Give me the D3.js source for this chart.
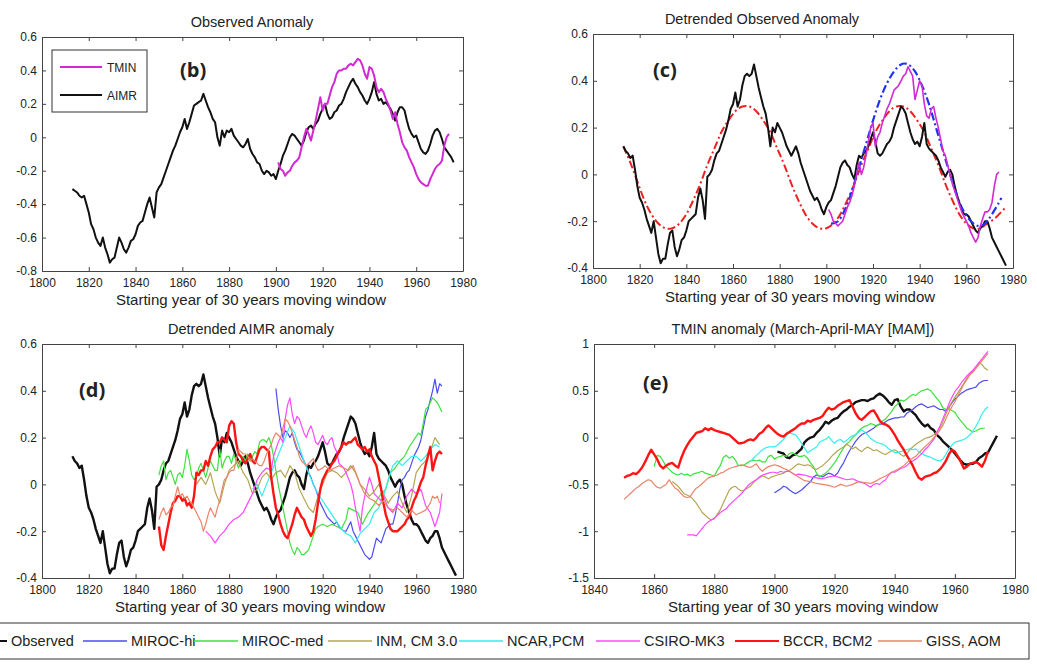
<!DOCTYPE html>
<html>
<head>
<meta charset="utf-8">
<script src="https://cdn.jsdelivr.net/npm/d3@7"></script>
<style>
  body { margin: 0; background: #fff; }
  text { font-family: "Liberation Sans", Arial, sans-serif; }
</style>
</head>
<body>
<script>
// tick values
var yearTicks = [1800, 1820, 1840, 1860, 1880, 1900, 1920, 1940, 1960, 1980];
var yearTicksE = [1840, 1860, 1880, 1900, 1920, 1940, 1960, 1980];
var ticksB = [-0.8, -0.6, -0.4, -0.2, 0, 0.2, 0.4, 0.6];
var ticksCD = [-0.4, -0.2, 0, 0.2, 0.4, 0.6];
var ticksE = [-1.5, -1, -0.5, 0, 0.5, 1];

// (b) observed anomaly
var aimrObs = [[1813,-0.31],[1814,-0.32],[1815,-0.33],[1816,-0.35],[1817,-0.36],[1818,-0.35],[1819,-0.4],[1820,-0.45],[1821,-0.52],[1822,-0.55],[1823,-0.6],[1824,-0.63],[1825,-0.65],[1826,-0.6],[1827,-0.66],[1828,-0.7],[1829,-0.75],[1830,-0.73],[1831,-0.72],[1832,-0.66],[1833,-0.6],[1834,-0.63],[1835,-0.67],[1836,-0.69],[1837,-0.66],[1838,-0.62],[1839,-0.61],[1840,-0.58],[1841,-0.53],[1842,-0.51],[1843,-0.5],[1844,-0.45],[1845,-0.4],[1846,-0.36],[1847,-0.42],[1848,-0.48],[1849,-0.33],[1850,-0.3],[1851,-0.28],[1852,-0.24],[1853,-0.2],[1854,-0.16],[1855,-0.12],[1856,-0.08],[1857,-0.05],[1858,-0.01],[1859,0.03],[1860,0.06],[1861,0.11],[1862,0.05],[1863,0.09],[1864,0.14],[1865,0.19],[1866,0.2],[1867,0.21],[1868,0.22],[1869,0.26],[1870,0.22],[1871,0.18],[1872,0.15],[1873,0.11],[1874,0.09],[1875,0.0],[1876,-0.05],[1877,0.04],[1878,0.0],[1879,0.04],[1880,0.03],[1881,0.05],[1882,0.01],[1883,-0.01],[1884,-0.03],[1885,-0.05],[1886,-0.06],[1887,-0.04],[1888,-0.01],[1889,-0.07],[1890,-0.1],[1891,-0.12],[1892,-0.15],[1893,-0.16],[1894,-0.2],[1895,-0.22],[1896,-0.2],[1897,-0.21],[1898,-0.23],[1899,-0.22],[1900,-0.25],[1901,-0.2],[1902,-0.16],[1903,-0.11],[1904,-0.08],[1905,-0.04],[1906,0.0],[1907,0.02],[1908,0.01],[1909,-0.01],[1910,-0.03],[1911,-0.05],[1912,-0.02],[1913,0.03],[1914,0.06],[1915,0.07],[1916,0.05],[1917,0.08],[1918,0.1],[1919,0.14],[1920,0.17],[1921,0.2],[1922,0.14],[1923,0.11],[1924,0.12],[1925,0.15],[1926,0.16],[1927,0.19],[1928,0.2],[1929,0.23],[1930,0.27],[1931,0.3],[1932,0.33],[1933,0.35],[1934,0.32],[1935,0.3],[1936,0.27],[1937,0.25],[1938,0.22],[1939,0.2],[1940,0.23],[1941,0.27],[1942,0.33],[1943,0.26],[1944,0.22],[1945,0.23],[1946,0.2],[1947,0.21],[1948,0.19],[1949,0.17],[1950,0.14],[1951,0.1],[1952,0.15],[1953,0.18],[1954,0.18],[1955,0.16],[1956,0.1],[1957,0.05],[1958,0.02],[1959,0.0],[1960,0.01],[1961,-0.03],[1962,-0.07],[1963,-0.09],[1964,-0.1],[1965,-0.08],[1966,-0.04],[1967,0.01],[1968,0.04],[1969,0.05],[1970,0.03],[1971,-0.01],[1972,-0.06],[1973,-0.08],[1974,-0.1],[1975,-0.12],[1976,-0.15]];
var tminObs = [[1901,-0.15],[1902,-0.19],[1903,-0.2],[1904,-0.23],[1905,-0.21],[1906,-0.2],[1907,-0.17],[1908,-0.15],[1909,-0.14],[1910,-0.12],[1911,-0.06],[1912,0.0],[1913,0.05],[1914,0.02],[1915,-0.02],[1916,0.04],[1917,0.1],[1918,0.17],[1919,0.24],[1920,0.16],[1921,0.2],[1922,0.2],[1923,0.25],[1924,0.3],[1925,0.33],[1926,0.38],[1927,0.4],[1928,0.4],[1929,0.41],[1930,0.41],[1931,0.43],[1932,0.44],[1933,0.43],[1934,0.45],[1935,0.47],[1936,0.46],[1937,0.43],[1938,0.38],[1939,0.35],[1940,0.42],[1941,0.41],[1942,0.37],[1943,0.3],[1944,0.27],[1945,0.29],[1946,0.27],[1947,0.23],[1948,0.2],[1949,0.16],[1950,0.11],[1951,0.15],[1952,0.08],[1953,0.03],[1954,-0.03],[1955,-0.06],[1956,-0.08],[1957,-0.12],[1958,-0.15],[1959,-0.18],[1960,-0.22],[1961,-0.25],[1962,-0.27],[1963,-0.28],[1964,-0.29],[1965,-0.29],[1966,-0.25],[1967,-0.22],[1968,-0.19],[1969,-0.17],[1970,-0.16],[1971,-0.14],[1972,-0.05],[1973,0.0],[1974,0.02]];

// (c) and (d) detrended observed
var aimrDetr = [[1813,0.12],[1814,0.1],[1815,0.09],[1816,0.07],[1817,0.08],[1818,0.02],[1819,-0.05],[1820,-0.1],[1821,-0.12],[1822,-0.15],[1823,-0.19],[1824,-0.22],[1825,-0.25],[1826,-0.2],[1827,-0.27],[1828,-0.34],[1829,-0.38],[1830,-0.36],[1831,-0.36],[1832,-0.3],[1833,-0.25],[1834,-0.24],[1835,-0.31],[1836,-0.35],[1837,-0.32],[1838,-0.28],[1839,-0.27],[1840,-0.24],[1841,-0.2],[1842,-0.19],[1843,-0.18],[1844,-0.17],[1845,-0.1],[1846,-0.06],[1847,-0.11],[1848,-0.19],[1849,-0.01],[1850,0.0],[1851,0.02],[1852,0.06],[1853,0.09],[1854,0.1],[1855,0.13],[1856,0.16],[1857,0.19],[1858,0.23],[1859,0.28],[1860,0.3],[1861,0.35],[1862,0.29],[1863,0.32],[1864,0.38],[1865,0.42],[1866,0.43],[1867,0.42],[1868,0.43],[1869,0.47],[1870,0.42],[1871,0.37],[1872,0.33],[1873,0.29],[1874,0.26],[1875,0.2],[1876,0.12],[1877,0.2],[1878,0.18],[1879,0.22],[1880,0.2],[1881,0.18],[1882,0.15],[1883,0.12],[1884,0.1],[1885,0.08],[1886,0.1],[1887,0.12],[1888,0.09],[1889,0.05],[1890,0.02],[1891,-0.01],[1892,-0.04],[1893,-0.07],[1894,-0.09],[1895,-0.11],[1896,-0.1],[1897,-0.12],[1898,-0.15],[1899,-0.17],[1900,-0.14],[1901,-0.12],[1902,-0.11],[1903,-0.08],[1904,-0.05],[1905,-0.01],[1906,0.03],[1907,0.05],[1908,0.06],[1909,0.04],[1910,0.03],[1911,0.0],[1912,-0.02],[1913,0.04],[1914,0.08],[1915,0.07],[1916,0.09],[1917,0.1],[1918,0.12],[1919,0.15],[1920,0.18],[1921,0.14],[1922,0.09],[1923,0.08],[1924,0.09],[1925,0.11],[1926,0.13],[1927,0.14],[1928,0.16],[1929,0.2],[1930,0.23],[1931,0.26],[1932,0.29],[1933,0.28],[1934,0.26],[1935,0.22],[1936,0.18],[1937,0.15],[1938,0.13],[1939,0.14],[1940,0.12],[1941,0.16],[1942,0.22],[1943,0.13],[1944,0.11],[1945,0.1],[1946,0.09],[1947,0.08],[1948,0.06],[1949,0.03],[1950,0.01],[1951,-0.01],[1952,0.01],[1953,0.02],[1954,0.0],[1955,-0.05],[1956,-0.09],[1957,-0.12],[1958,-0.15],[1959,-0.17],[1960,-0.17],[1961,-0.18],[1962,-0.2],[1963,-0.22],[1964,-0.24],[1965,-0.25],[1966,-0.23],[1967,-0.22],[1968,-0.2],[1969,-0.2],[1970,-0.23],[1971,-0.27],[1972,-0.29],[1973,-0.31],[1974,-0.33],[1975,-0.35],[1976,-0.37],[1977,-0.39]];
var tminDetr = [[1901,-0.15],[1902,-0.17],[1903,-0.2],[1904,-0.21],[1905,-0.22],[1906,-0.21],[1907,-0.2],[1908,-0.17],[1909,-0.14],[1910,-0.12],[1911,-0.09],[1912,-0.05],[1913,0.0],[1914,0.05],[1915,0.0],[1916,0.03],[1917,0.08],[1918,0.14],[1919,0.2],[1920,0.22],[1921,0.12],[1922,0.16],[1923,0.18],[1924,0.22],[1925,0.25],[1926,0.28],[1927,0.3],[1928,0.33],[1929,0.36],[1930,0.37],[1931,0.38],[1932,0.4],[1933,0.42],[1934,0.43],[1935,0.46],[1936,0.44],[1937,0.42],[1938,0.32],[1939,0.36],[1940,0.4],[1941,0.38],[1942,0.3],[1943,0.25],[1944,0.24],[1945,0.28],[1946,0.29],[1947,0.24],[1948,0.2],[1949,0.15],[1950,0.1],[1951,0.08],[1952,0.04],[1953,0.0],[1954,-0.04],[1955,-0.07],[1956,-0.1],[1957,-0.13],[1958,-0.16],[1959,-0.18],[1960,-0.2],[1961,-0.22],[1962,-0.25],[1963,-0.27],[1964,-0.29],[1965,-0.27],[1966,-0.22],[1967,-0.19],[1968,-0.16],[1969,-0.16],[1970,-0.15],[1971,-0.12],[1972,-0.05],[1973,0.0],[1974,0.01]];
var aimrFit = [[1813,0.12],[1816,0.05],[1819,-0.03],[1822,-0.11],[1825,-0.17],[1828,-0.21],[1831,-0.23],[1834,-0.23],[1837,-0.21],[1840,-0.17],[1843,-0.11],[1846,-0.04],[1849,0.04],[1852,0.11],[1855,0.18],[1858,0.23],[1861,0.27],[1864,0.29],[1867,0.29],[1870,0.27],[1873,0.23],[1876,0.18],[1879,0.11],[1882,0.04],[1885,-0.04],[1888,-0.11],[1891,-0.17],[1894,-0.21],[1897,-0.23],[1900,-0.23],[1903,-0.21],[1906,-0.17],[1909,-0.11],[1912,-0.04],[1915,0.04],[1918,0.11],[1921,0.18],[1924,0.23],[1927,0.27],[1930,0.29],[1933,0.29],[1936,0.27],[1939,0.23],[1942,0.18],[1945,0.11],[1948,0.04],[1951,-0.04],[1954,-0.11],[1957,-0.17],[1960,-0.21],[1963,-0.23],[1966,-0.23],[1969,-0.21],[1972,-0.19],[1975,-0.16],[1977,-0.14]];
var tminFit = [[1902,-0.21],[1905,-0.2],[1908,-0.15],[1911,-0.07],[1914,0.03],[1917,0.13],[1920,0.23],[1923,0.32],[1926,0.39],[1929,0.44],[1932,0.47],[1935,0.47],[1938,0.44],[1941,0.38],[1944,0.3],[1947,0.2],[1950,0.1],[1953,0.0],[1956,-0.09],[1959,-0.16],[1962,-0.2],[1965,-0.22],[1968,-0.21],[1971,-0.17],[1974,-0.12],[1975,-0.1]];

// (d) detrended AIMR, models
var dMirocHi = [[1900,0.41],[1901,0.32],[1902,0.25],[1903,0.2],[1904,0.23],[1905,0.22],[1906,0.2],[1907,0.22],[1908,0.18],[1909,0.15],[1910,0.14],[1911,0.12],[1912,0.1],[1913,0.08],[1914,0.05],[1915,0.03],[1916,0.0],[1917,-0.02],[1918,-0.05],[1919,-0.08],[1920,-0.1],[1921,-0.12],[1922,-0.14],[1923,-0.15],[1924,-0.16],[1925,-0.17],[1926,-0.16],[1927,-0.18],[1928,-0.19],[1929,-0.2],[1930,-0.2],[1931,-0.18],[1932,-0.16],[1933,-0.2],[1934,-0.22],[1935,-0.24],[1936,-0.26],[1937,-0.28],[1938,-0.3],[1939,-0.31],[1940,-0.32],[1941,-0.31],[1942,-0.27],[1943,-0.23],[1944,-0.24],[1945,-0.25],[1946,-0.22],[1947,-0.19],[1948,-0.18],[1949,-0.17],[1950,-0.17],[1951,-0.13],[1952,-0.08],[1953,-0.02],[1954,0.02],[1955,0.03],[1956,0.05],[1957,0.06],[1958,0.09],[1959,0.12],[1960,0.14],[1961,0.16],[1962,0.19],[1963,0.24],[1964,0.29],[1965,0.32],[1966,0.36],[1967,0.4],[1968,0.45],[1969,0.39],[1970,0.43],[1971,0.42]];
var dMirocMed = [[1850,0.04],[1851,0.08],[1852,0.1],[1853,0.02],[1854,0.05],[1855,0.06],[1856,0.03],[1857,0.0],[1858,0.04],[1859,0.05],[1860,0.03],[1861,0.08],[1862,0.15],[1863,0.1],[1864,0.04],[1865,0.02],[1866,0.03],[1867,0.07],[1868,0.09],[1869,0.06],[1870,0.03],[1871,0.07],[1872,0.1],[1873,0.08],[1874,0.06],[1875,0.06],[1876,0.15],[1877,0.07],[1878,0.1],[1879,0.12],[1880,0.12],[1881,0.09],[1882,0.13],[1883,0.1],[1884,0.07],[1885,0.1],[1886,0.12],[1887,0.1],[1888,0.13],[1889,0.1],[1890,0.12],[1891,0.14],[1892,0.13],[1893,0.18],[1894,0.19],[1895,0.19],[1896,0.18],[1897,0.2],[1898,0.17],[1899,0.12],[1900,0.06],[1901,0.0],[1902,-0.05],[1903,-0.1],[1904,-0.15],[1905,-0.2],[1906,-0.25],[1907,-0.28],[1908,-0.3],[1909,-0.27],[1910,-0.28],[1911,-0.3],[1912,-0.3],[1913,-0.29],[1914,-0.28],[1915,-0.25],[1916,-0.22],[1917,-0.19],[1918,-0.18],[1920,-0.17],[1922,-0.18],[1924,-0.17],[1926,-0.18],[1928,-0.19],[1930,-0.15],[1931,-0.1],[1933,-0.11],[1935,-0.12],[1937,-0.17],[1939,-0.13],[1941,-0.1],[1943,-0.07],[1945,-0.04],[1947,-0.02],[1949,0.05],[1951,0.07],[1953,0.1],[1955,0.12],[1957,0.16],[1959,0.19],[1961,0.22],[1962,0.21],[1963,0.26],[1964,0.32],[1965,0.33],[1966,0.35],[1967,0.37],[1968,0.36],[1969,0.35],[1970,0.33],[1971,0.31]];
var dInm = [[1866,0.0],[1868,0.03],[1870,0.0],[1872,0.05],[1874,-0.03],[1876,-0.08],[1878,0.0],[1880,0.06],[1882,0.08],[1884,0.1],[1886,0.05],[1888,0.02],[1890,-0.04],[1892,-0.02],[1894,0.03],[1896,0.05],[1898,0.02],[1900,0.05],[1902,0.06],[1904,0.03],[1906,0.08],[1908,0.05],[1910,-0.02],[1912,-0.06],[1914,-0.1],[1916,-0.12],[1918,-0.05],[1920,0.0],[1922,0.05],[1924,0.06],[1926,0.05],[1928,0.03],[1930,0.05],[1932,0.08],[1934,0.05],[1936,0.0],[1938,-0.02],[1940,-0.05],[1942,-0.03],[1944,0.0],[1946,-0.04],[1948,-0.08],[1950,-0.05],[1952,-0.03],[1954,-0.08],[1956,-0.12],[1958,-0.05],[1960,0.05],[1962,0.08],[1964,0.1],[1966,0.14],[1968,0.2],[1970,0.17]];
var dNcar = [[1890,-0.02],[1892,0.0],[1894,-0.05],[1896,0.0],[1898,0.05],[1900,0.1],[1902,0.15],[1904,0.2],[1906,0.25],[1908,0.22],[1910,0.16],[1912,0.1],[1914,0.05],[1916,0.0],[1918,-0.04],[1920,-0.07],[1922,-0.1],[1924,-0.13],[1926,-0.16],[1928,-0.19],[1930,-0.21],[1932,-0.22],[1934,-0.25],[1936,-0.21],[1938,-0.19],[1940,-0.17],[1942,-0.12],[1944,-0.1],[1946,-0.05],[1948,0.02],[1950,0.08],[1952,0.1],[1954,0.08],[1956,0.1],[1958,0.12],[1960,0.12],[1962,0.1],[1964,0.12],[1966,0.15],[1968,0.17],[1970,0.16]];
var dCsiro = [[1870,-0.2],[1872,-0.22],[1874,-0.25],[1876,-0.22],[1878,-0.2],[1880,-0.17],[1882,-0.15],[1884,-0.14],[1886,-0.12],[1888,-0.08],[1890,-0.04],[1892,0.02],[1894,0.05],[1896,0.07],[1898,0.06],[1899,0.12],[1901,0.18],[1902,0.2],[1903,0.18],[1904,0.28],[1905,0.34],[1906,0.37],[1907,0.3],[1908,0.26],[1909,0.29],[1910,0.28],[1911,0.25],[1912,0.22],[1913,0.2],[1914,0.23],[1915,0.25],[1916,0.22],[1917,0.18],[1918,0.17],[1919,0.19],[1920,0.21],[1921,0.18],[1922,0.17],[1923,0.19],[1924,0.2],[1925,0.16],[1926,0.14],[1927,0.09],[1929,0.07],[1930,0.05],[1932,0.0],[1933,-0.04],[1934,-0.1],[1935,-0.15],[1936,-0.2],[1937,-0.1],[1938,-0.05],[1940,0.03],[1941,0.0],[1942,-0.04],[1944,-0.06],[1945,-0.07],[1946,-0.05],[1948,-0.1],[1950,-0.12],[1952,-0.08],[1954,-0.1],[1956,-0.05],[1958,-0.02],[1960,-0.04],[1962,-0.02],[1964,-0.09],[1966,-0.12],[1967,-0.15],[1968,-0.18],[1969,-0.15],[1970,-0.12],[1971,-0.04]];
var dBccr = [[1850,-0.18],[1851,-0.26],[1852,-0.28],[1853,-0.22],[1854,-0.17],[1855,-0.12],[1856,-0.08],[1857,-0.07],[1858,-0.05],[1859,-0.05],[1860,-0.07],[1861,-0.06],[1862,-0.09],[1863,-0.08],[1864,-0.1],[1865,-0.05],[1866,0.05],[1867,0.04],[1868,0.06],[1869,0.06],[1870,0.1],[1871,0.08],[1872,0.12],[1873,0.15],[1874,0.16],[1875,0.18],[1876,0.18],[1877,0.2],[1878,0.19],[1879,0.18],[1880,0.25],[1881,0.27],[1882,0.26],[1883,0.18],[1884,0.13],[1885,0.12],[1886,0.1],[1887,0.09],[1888,0.11],[1889,0.13],[1890,0.1],[1891,0.09],[1892,0.12],[1893,0.15],[1894,0.16],[1895,0.16],[1896,0.15],[1897,0.14],[1898,0.03],[1899,-0.04],[1900,-0.1],[1901,-0.13],[1902,-0.17],[1903,-0.2],[1904,-0.22],[1905,-0.23],[1906,-0.2],[1907,-0.17],[1908,-0.13],[1909,-0.1],[1910,-0.12],[1911,-0.14],[1912,-0.15],[1913,-0.18],[1914,-0.2],[1915,-0.22],[1916,-0.2],[1917,-0.15],[1918,-0.08],[1919,-0.02],[1920,0.02],[1921,0.04],[1922,0.06],[1923,0.07],[1924,0.09],[1925,0.1],[1926,0.12],[1927,0.14],[1928,0.16],[1929,0.18],[1930,0.17],[1931,0.18],[1932,0.18],[1933,0.19],[1934,0.2],[1935,0.17],[1936,0.16],[1937,0.15],[1938,0.16],[1939,0.14],[1940,0.15],[1941,0.12],[1942,0.1],[1943,0.08],[1944,0.03],[1945,-0.02],[1946,-0.08],[1947,-0.13],[1948,-0.16],[1949,-0.19],[1950,-0.2],[1951,-0.2],[1952,-0.2],[1953,-0.19],[1954,-0.18],[1955,-0.17],[1956,-0.15],[1957,-0.14],[1958,-0.1],[1959,-0.07],[1960,-0.05],[1961,-0.02],[1962,0.01],[1963,0.03],[1964,0.08],[1965,0.12],[1966,0.16],[1967,0.06],[1968,0.1],[1969,0.13],[1970,0.14],[1971,0.13]];
var dGiss = [[1850,-0.15],[1851,-0.12],[1852,-0.1],[1853,-0.13],[1854,-0.12],[1855,-0.1],[1856,-0.09],[1857,-0.05],[1858,-0.01],[1859,-0.05],[1860,-0.04],[1861,-0.06],[1862,-0.05],[1863,-0.07],[1864,-0.08],[1865,-0.1],[1866,-0.12],[1867,-0.14],[1868,-0.16],[1869,-0.2],[1870,-0.17],[1871,-0.13],[1872,-0.1],[1873,-0.12],[1874,-0.14],[1875,-0.1],[1876,-0.07],[1877,-0.02],[1878,0.02],[1879,0.03],[1880,0.05],[1881,0.06],[1882,0.06],[1883,0.1],[1884,0.15],[1885,0.14],[1886,0.13],[1887,0.13],[1888,0.12],[1889,0.1],[1890,0.11],[1891,0.1],[1892,0.09],[1893,0.08],[1894,0.08],[1895,0.1],[1896,0.13],[1897,0.15],[1898,0.17],[1899,0.2],[1900,0.22],[1901,0.21],[1902,0.2],[1903,0.24],[1904,0.28],[1905,0.27],[1906,0.25],[1907,0.22],[1908,0.19],[1909,0.16],[1910,0.12],[1911,0.1],[1912,0.09],[1913,0.08],[1914,0.09],[1915,0.1],[1916,0.11],[1917,0.08],[1918,0.06],[1920,0.07],[1921,0.08],[1923,0.06],[1925,0.07],[1927,0.08],[1929,0.07],[1931,0.06],[1933,0.08],[1935,0.03],[1936,0.0],[1938,-0.04],[1940,-0.06],[1942,-0.07],[1944,-0.09],[1946,-0.07],[1948,-0.1],[1950,-0.11],[1952,-0.1],[1954,-0.12],[1956,-0.14],[1958,-0.11],[1960,-0.13],[1962,-0.12],[1964,-0.11],[1966,-0.08],[1967,-0.05],[1968,-0.06],[1969,-0.05],[1970,-0.08]];

// (e) TMIN anomaly MAM
var eObs = [[1901,-0.15],[1902,-0.16],[1903,-0.17],[1904,-0.21],[1905,-0.22],[1906,-0.19],[1907,-0.18],[1908,-0.15],[1909,-0.12],[1910,-0.05],[1911,-0.02],[1912,0.0],[1913,0.01],[1914,0.05],[1915,0.08],[1916,0.12],[1917,0.17],[1918,0.15],[1919,0.18],[1920,0.2],[1921,0.21],[1922,0.25],[1923,0.28],[1924,0.3],[1925,0.33],[1926,0.35],[1927,0.38],[1928,0.39],[1929,0.4],[1930,0.4],[1931,0.39],[1932,0.41],[1933,0.42],[1934,0.45],[1935,0.47],[1936,0.45],[1937,0.42],[1938,0.38],[1939,0.35],[1940,0.4],[1941,0.41],[1942,0.33],[1943,0.28],[1944,0.3],[1945,0.3],[1946,0.27],[1947,0.24],[1948,0.19],[1949,0.15],[1950,0.12],[1951,0.14],[1952,0.1],[1953,0.08],[1954,0.03],[1955,0.0],[1956,-0.04],[1957,-0.07],[1958,-0.1],[1959,-0.13],[1960,-0.17],[1961,-0.21],[1962,-0.25],[1963,-0.28],[1964,-0.29],[1965,-0.28],[1966,-0.28],[1967,-0.26],[1968,-0.22],[1969,-0.2],[1970,-0.17],[1971,-0.16],[1972,-0.1],[1973,-0.04],[1974,0.02]];
var eMirocHi = [[1900,-0.59],[1901,-0.57],[1902,-0.55],[1903,-0.52],[1904,-0.53],[1905,-0.56],[1906,-0.58],[1907,-0.6],[1908,-0.58],[1909,-0.56],[1910,-0.53],[1911,-0.5],[1912,-0.47],[1913,-0.42],[1914,-0.4],[1915,-0.41],[1916,-0.42],[1917,-0.4],[1918,-0.38],[1919,-0.39],[1920,-0.41],[1921,-0.38],[1922,-0.32],[1923,-0.27],[1924,-0.2],[1925,-0.14],[1926,-0.09],[1927,-0.04],[1928,0.0],[1929,0.03],[1930,0.05],[1931,0.06],[1932,0.08],[1933,0.1],[1934,0.13],[1935,0.14],[1936,0.15],[1937,0.17],[1938,0.19],[1939,0.2],[1940,0.21],[1941,0.21],[1942,0.22],[1943,0.22],[1944,0.26],[1945,0.28],[1946,0.3],[1947,0.33],[1948,0.35],[1949,0.36],[1950,0.34],[1951,0.32],[1952,0.33],[1953,0.34],[1954,0.32],[1955,0.3],[1956,0.3],[1957,0.28],[1958,0.32],[1959,0.37],[1960,0.41],[1961,0.44],[1962,0.47],[1963,0.49],[1964,0.51],[1965,0.52],[1966,0.53],[1967,0.54],[1968,0.58],[1969,0.6],[1970,0.61],[1971,0.61]];
var eMirocMed = [[1860,-0.31],[1861,-0.19],[1862,-0.2],[1863,-0.25],[1864,-0.31],[1865,-0.34],[1866,-0.37],[1867,-0.39],[1868,-0.4],[1869,-0.38],[1870,-0.4],[1871,-0.39],[1872,-0.41],[1873,-0.39],[1874,-0.38],[1875,-0.37],[1876,-0.36],[1877,-0.38],[1878,-0.39],[1879,-0.4],[1880,-0.41],[1881,-0.35],[1882,-0.3],[1883,-0.21],[1884,-0.19],[1885,-0.22],[1886,-0.2],[1887,-0.24],[1888,-0.3],[1889,-0.3],[1890,-0.29],[1891,-0.27],[1892,-0.25],[1893,-0.24],[1894,-0.25],[1895,-0.24],[1896,-0.26],[1897,-0.26],[1898,-0.2],[1899,-0.19],[1900,-0.23],[1901,-0.21],[1902,-0.2],[1903,-0.19],[1904,-0.2],[1905,-0.17],[1906,-0.16],[1907,-0.18],[1908,-0.2],[1909,-0.2],[1910,-0.19],[1911,-0.22],[1912,-0.27],[1913,-0.31],[1914,-0.38],[1915,-0.42],[1916,-0.4],[1917,-0.38],[1918,-0.35],[1919,-0.31],[1920,-0.27],[1921,-0.22],[1922,-0.16],[1923,-0.11],[1924,-0.07],[1925,-0.04],[1926,0.0],[1927,0.03],[1928,0.07],[1929,0.1],[1930,0.12],[1931,0.13],[1932,0.15],[1933,0.14],[1934,0.12],[1935,0.15],[1936,0.18],[1937,0.2],[1938,0.24],[1939,0.28],[1940,0.33],[1941,0.36],[1942,0.4],[1943,0.39],[1944,0.41],[1945,0.44],[1946,0.46],[1947,0.45],[1948,0.48],[1949,0.5],[1950,0.51],[1951,0.52],[1952,0.5],[1953,0.46],[1954,0.42],[1955,0.38],[1956,0.32],[1957,0.3],[1958,0.31],[1959,0.29],[1960,0.27],[1961,0.22],[1962,0.18],[1963,0.14],[1964,0.1],[1965,0.08],[1966,0.06],[1967,0.07],[1968,0.09],[1969,0.1],[1970,0.1]];
var eInm = [[1866,-0.47],[1868,-0.52],[1870,-0.6],[1872,-0.63],[1873,-0.66],[1874,-0.7],[1875,-0.75],[1876,-0.8],[1877,-0.83],[1878,-0.86],[1879,-0.88],[1880,-0.87],[1881,-0.82],[1882,-0.77],[1883,-0.7],[1884,-0.63],[1885,-0.56],[1886,-0.53],[1887,-0.52],[1888,-0.55],[1889,-0.57],[1890,-0.56],[1891,-0.54],[1892,-0.52],[1893,-0.48],[1894,-0.45],[1895,-0.43],[1896,-0.41],[1897,-0.42],[1898,-0.44],[1899,-0.42],[1900,-0.41],[1901,-0.4],[1902,-0.39],[1903,-0.38],[1904,-0.36],[1905,-0.35],[1906,-0.33],[1907,-0.3],[1908,-0.28],[1909,-0.29],[1910,-0.3],[1911,-0.29],[1912,-0.3],[1913,-0.33],[1914,-0.34],[1915,-0.32],[1916,-0.3],[1917,-0.27],[1918,-0.24],[1919,-0.2],[1920,-0.17],[1921,-0.14],[1922,-0.12],[1923,-0.1],[1924,-0.07],[1925,-0.09],[1926,-0.12],[1927,-0.1],[1928,-0.13],[1929,-0.15],[1930,-0.12],[1931,-0.1],[1932,-0.12],[1933,-0.14],[1934,-0.13],[1935,-0.15],[1936,-0.17],[1937,-0.18],[1938,-0.16],[1939,-0.14],[1940,-0.13],[1941,-0.15],[1942,-0.18],[1943,-0.2],[1944,-0.17],[1945,-0.13],[1946,-0.1],[1947,-0.07],[1948,-0.05],[1949,-0.03],[1950,-0.01],[1951,0.0],[1952,0.01],[1953,0.03],[1954,0.06],[1955,0.1],[1956,0.17],[1957,0.25],[1958,0.32],[1959,0.38],[1960,0.43],[1961,0.48],[1962,0.53],[1963,0.58],[1964,0.64],[1965,0.68],[1966,0.71],[1967,0.74],[1968,0.8],[1969,0.78],[1970,0.74],[1971,0.72]];
var eNcar = [[1892,-0.26],[1893,-0.22],[1894,-0.19],[1895,-0.16],[1896,-0.13],[1897,-0.11],[1898,-0.1],[1899,-0.1],[1900,-0.1],[1901,-0.08],[1902,-0.05],[1903,-0.02],[1904,0.02],[1905,0.05],[1906,0.04],[1907,0.03],[1908,-0.01],[1909,-0.06],[1910,-0.11],[1911,-0.16],[1912,-0.14],[1913,-0.12],[1914,-0.1],[1915,-0.05],[1916,-0.03],[1917,-0.02],[1918,0.01],[1919,-0.03],[1920,-0.06],[1921,-0.03],[1922,-0.02],[1923,-0.05],[1924,-0.03],[1925,0.0],[1926,0.02],[1927,0.03],[1928,0.06],[1929,0.08],[1930,0.06],[1931,0.03],[1932,-0.01],[1933,-0.03],[1934,-0.05],[1935,-0.06],[1936,-0.07],[1937,-0.09],[1938,-0.12],[1939,-0.14],[1940,-0.16],[1941,-0.16],[1942,-0.15],[1943,-0.14],[1944,-0.13],[1945,-0.12],[1946,-0.13],[1947,-0.12],[1948,-0.15],[1949,-0.17],[1950,-0.19],[1951,-0.2],[1952,-0.21],[1953,-0.23],[1954,-0.24],[1955,-0.25],[1956,-0.23],[1957,-0.18],[1958,-0.12],[1959,-0.08],[1960,-0.05],[1961,-0.04],[1962,-0.03],[1963,-0.02],[1964,0.0],[1965,0.03],[1966,0.07],[1967,0.12],[1968,0.18],[1969,0.25],[1970,0.3],[1971,0.33]];
var eCsiro = [[1871,-1.04],[1872,-1.04],[1873,-1.04],[1874,-1.05],[1875,-1.01],[1876,-0.97],[1877,-0.93],[1878,-0.9],[1879,-0.88],[1880,-0.86],[1881,-0.83],[1882,-0.8],[1883,-0.78],[1884,-0.76],[1885,-0.72],[1886,-0.69],[1887,-0.66],[1888,-0.63],[1889,-0.6],[1890,-0.56],[1891,-0.52],[1892,-0.49],[1893,-0.47],[1894,-0.45],[1895,-0.42],[1896,-0.4],[1897,-0.39],[1898,-0.38],[1899,-0.37],[1900,-0.37],[1901,-0.38],[1902,-0.36],[1903,-0.37],[1904,-0.36],[1905,-0.36],[1906,-0.38],[1907,-0.4],[1908,-0.39],[1910,-0.4],[1912,-0.42],[1914,-0.43],[1916,-0.44],[1918,-0.42],[1920,-0.41],[1922,-0.43],[1924,-0.45],[1926,-0.44],[1928,-0.47],[1930,-0.49],[1932,-0.53],[1933,-0.5],[1934,-0.49],[1935,-0.5],[1936,-0.47],[1937,-0.45],[1938,-0.4],[1939,-0.37],[1940,-0.37],[1941,-0.35],[1942,-0.33],[1943,-0.32],[1944,-0.3],[1945,-0.27],[1946,-0.25],[1947,-0.23],[1948,-0.2],[1949,-0.17],[1950,-0.13],[1951,-0.1],[1952,-0.06],[1953,-0.02],[1954,0.05],[1955,0.12],[1956,0.2],[1957,0.28],[1958,0.36],[1959,0.43],[1960,0.49],[1961,0.53],[1962,0.58],[1963,0.62],[1964,0.66],[1965,0.69],[1966,0.72],[1967,0.76],[1968,0.8],[1969,0.84],[1970,0.88],[1971,0.92]];
var eBccr = [[1850,-0.43],[1851,-0.41],[1852,-0.4],[1853,-0.38],[1854,-0.39],[1855,-0.36],[1856,-0.32],[1857,-0.26],[1858,-0.19],[1859,-0.13],[1860,-0.18],[1861,-0.23],[1862,-0.3],[1863,-0.33],[1864,-0.3],[1865,-0.28],[1866,-0.27],[1867,-0.3],[1868,-0.32],[1869,-0.22],[1870,-0.14],[1871,-0.08],[1872,-0.03],[1873,0.01],[1874,0.05],[1875,0.06],[1876,0.07],[1877,0.1],[1878,0.08],[1879,0.1],[1880,0.08],[1881,0.07],[1882,0.06],[1883,0.05],[1884,0.04],[1885,0.03],[1886,0.0],[1887,-0.03],[1888,-0.06],[1889,-0.06],[1890,-0.05],[1891,-0.03],[1892,-0.02],[1893,-0.03],[1894,0.0],[1895,0.04],[1896,0.06],[1897,0.1],[1898,0.13],[1899,0.1],[1900,0.07],[1901,0.04],[1902,0.02],[1903,0.01],[1904,0.04],[1905,0.06],[1906,0.08],[1907,0.1],[1908,0.13],[1909,0.15],[1910,0.15],[1911,0.18],[1912,0.17],[1913,0.19],[1914,0.2],[1915,0.21],[1916,0.23],[1917,0.28],[1918,0.32],[1919,0.3],[1920,0.31],[1921,0.34],[1922,0.36],[1923,0.38],[1924,0.39],[1925,0.4],[1926,0.33],[1927,0.26],[1928,0.21],[1929,0.19],[1930,0.22],[1931,0.25],[1932,0.28],[1933,0.29],[1934,0.24],[1935,0.18],[1936,0.15],[1937,0.14],[1938,0.12],[1939,0.08],[1940,0.03],[1941,-0.03],[1942,-0.08],[1943,-0.13],[1944,-0.19],[1945,-0.24],[1946,-0.3],[1947,-0.37],[1948,-0.43],[1949,-0.45],[1950,-0.42],[1951,-0.41],[1952,-0.4],[1953,-0.38],[1954,-0.37],[1955,-0.34],[1956,-0.3],[1957,-0.25],[1958,-0.18],[1959,-0.13],[1960,-0.15],[1961,-0.2],[1962,-0.26],[1963,-0.33],[1964,-0.31],[1965,-0.28],[1966,-0.27],[1967,-0.26],[1968,-0.28],[1969,-0.31],[1970,-0.25],[1971,-0.15]];
var eGiss = [[1850,-0.66],[1851,-0.63],[1852,-0.6],[1853,-0.57],[1854,-0.54],[1855,-0.52],[1856,-0.49],[1857,-0.47],[1858,-0.45],[1859,-0.46],[1860,-0.5],[1861,-0.53],[1862,-0.54],[1863,-0.52],[1864,-0.5],[1865,-0.45],[1866,-0.5],[1867,-0.54],[1868,-0.56],[1869,-0.6],[1870,-0.63],[1871,-0.64],[1872,-0.63],[1873,-0.58],[1874,-0.54],[1875,-0.52],[1876,-0.49],[1877,-0.46],[1878,-0.43],[1879,-0.42],[1880,-0.41],[1881,-0.4],[1882,-0.38],[1883,-0.37],[1884,-0.35],[1885,-0.33],[1886,-0.32],[1887,-0.31],[1888,-0.3],[1889,-0.29],[1890,-0.3],[1891,-0.31],[1892,-0.32],[1893,-0.3],[1894,-0.28],[1895,-0.33],[1896,-0.36],[1897,-0.33],[1898,-0.31],[1899,-0.3],[1900,-0.29],[1901,-0.3],[1902,-0.31],[1903,-0.33],[1904,-0.34],[1905,-0.36],[1906,-0.38],[1907,-0.4],[1908,-0.42],[1909,-0.44],[1910,-0.46],[1912,-0.47],[1914,-0.49],[1916,-0.5],[1918,-0.51],[1920,-0.53],[1922,-0.5],[1924,-0.52],[1926,-0.5],[1928,-0.47],[1930,-0.48],[1932,-0.49],[1934,-0.46],[1935,-0.44],[1937,-0.41],[1939,-0.37],[1941,-0.34],[1943,-0.3],[1945,-0.24],[1947,-0.2],[1949,-0.13],[1951,-0.07],[1952,-0.04],[1953,0.0],[1954,0.03],[1955,0.08],[1956,0.13],[1957,0.2],[1958,0.27],[1959,0.33],[1960,0.38],[1961,0.45],[1962,0.51],[1963,0.57],[1964,0.62],[1965,0.67],[1966,0.7],[1967,0.74],[1968,0.78],[1969,0.82],[1970,0.86],[1971,0.9]];

var modelNames = ["MIROC-hi", "MIROC-med", "INM, CM 3.0", "NCAR,PCM", "CSIRO-MK3", "BCCR, BCM2", "GISS, AOM"];
var modelColors = ["#4b4bf2", "#3ee23e", "#b3a653", "#35eded", "#ff48ff", "#ff1414", "#e98468"];

var svg = d3.select("body").append("svg").attr("width", 1037).attr("height", 671);
svg.append("rect").attr("width", 1037).attr("height", 671).attr("fill", "#fff");

var fmt = d => String(d);

function makePanel(p) {
  var x = d3.scaleLinear().domain(p.xd).range([p.l, p.r]);
  var y = d3.scaleLinear().domain(p.yd).range([p.b, p.t]);
  var g = svg.append("g");
  g.append("g").attr("transform", "translate(0," + p.b + ")")
    .call(d3.axisBottom(x).tickValues(p.xt).tickFormat(fmt).tickSizeInner(-4).tickSizeOuter(0).tickPadding(7));
  g.append("g").attr("transform", "translate(0," + p.t + ")")
    .call(d3.axisTop(x).tickValues(p.xt).tickFormat("").tickSizeInner(-4).tickSizeOuter(0));
  g.append("g").attr("transform", "translate(" + p.l + ",0)")
    .call(d3.axisLeft(y).tickValues(p.yt).tickFormat(fmt).tickSizeInner(-4).tickSizeOuter(0).tickPadding(5));
  g.append("g").attr("transform", "translate(" + p.r + ",0)")
    .call(d3.axisRight(y).tickValues(p.yt).tickFormat("").tickSizeInner(-4).tickSizeOuter(0));
  g.selectAll(".domain").attr("stroke", "#444");
  g.selectAll(".tick line").attr("stroke", "#444");
  g.selectAll(".tick text").attr("fill", "#222").style("font-size", "12px")
    .style("font-family", "'Liberation Sans', Arial, sans-serif");

  g.append("text").attr("x", p.titleX).attr("y", p.t - 10).attr("text-anchor", "middle")
    .style("font-size", "14.5px").attr("fill", "#222").text(p.title);
  g.append("text").attr("x", p.xlabX).attr("y", p.b + 34).attr("text-anchor", "middle")
    .style("font-size", "15px").attr("fill", "#222").text("Starting year of 30 years moving window");
  g.append("text").attr("x", p.labX).attr("y", p.labY)
    .style("font-size", "20px").style("font-weight", "bold")
    .style("font-family", "'Open Sans', 'Liberation Sans', sans-serif").attr("fill", "#222").text(p.label);

  var line = d3.line().x(d => x(d[0])).y(d => y(d[1]));
  var smooth = d3.line().x(d => x(d[0])).y(d => y(d[1])).curveNatural ? null : null;
  var plot = g.append("g");
  return {
    x: x, y: y, g: g,
    add: function (data, color, width, dash, curved) {
      var gen = d3.line().x(d => x(d[0])).y(d => y(d[1]));
      if (curved) gen.curve(d3.curveNatural);
      plot.append("path").datum(data).attr("d", gen)
        .attr("fill", "none").attr("stroke", color).attr("stroke-width", width)
        .attr("stroke-linejoin", "round").attr("stroke-dasharray", dash || null);
    }
  };
}

// (b)
var pb = makePanel({l: 42, r: 463, t: 37, b: 271, xd: [1800, 1980], yd: [-0.8, 0.6], xt: yearTicks, yt: ticksB,
  title: "Observed Anomaly", titleX: 252, xlabX: 251, label: "(b)", labX: 180, labY: 77});
pb.add(aimrObs, "#111", 2);
pb.add(tminObs, "#d22ad2", 2);
var lg = pb.g.append("g");
lg.append("rect").attr("x", 52).attr("y", 50).attr("width", 95).attr("height", 62)
  .attr("fill", "#fff").attr("stroke", "#333");
[["TMIN", "#d22ad2", 67], ["AIMR", "#111", 95]].forEach(function (e) {
  lg.append("line").attr("x1", 60).attr("x2", 102).attr("y1", e[2]).attr("y2", e[2])
    .attr("stroke", e[1]).attr("stroke-width", 2);
  lg.append("text").attr("x", 107).attr("y", e[2] + 4.5).style("font-size", "12px").attr("fill", "#222").text(e[0]);
});

// (c)
var pc = makePanel({l: 593, r: 1013, t: 34, b: 268, xd: [1800, 1980], yd: [-0.4, 0.6], xt: yearTicks, yt: ticksCD,
  title: "Detrended Observed Anomaly", titleX: 762, xlabX: 800, label: "(c)", labX: 653, labY: 77});
pc.add(aimrFit, "#ee2020", 2, "8,3,2,3", true);
pc.add(aimrDetr, "#111", 2);
pc.add(tminFit, "#2233ee", 2.2, "8,3,2,3", true);
pc.add(tminDetr, "#d22ad2", 1.6);

// (d)
var pd = makePanel({l: 42, r: 463, t: 344, b: 578, xd: [1800, 1980], yd: [-0.4, 0.6], xt: yearTicks, yt: ticksCD,
  title: "Detrended AIMR anomaly", titleX: 251, xlabX: 250, label: "(d)", labX: 79, labY: 397});
pd.add(aimrDetr, "#111", 2.4);
[dMirocHi, dMirocMed, dInm, dNcar, dCsiro, dBccr, dGiss].forEach(function (s, i) {
  pd.add(s, modelColors[i], i === 5 ? 2.4 : 1.2);
});

// (e)
var pe = makePanel({l: 594, r: 1015, t: 344, b: 578, xd: [1840, 1980], yd: [-1.5, 1], xt: yearTicksE, yt: ticksE,
  title: "TMIN anomaly (March-April-MAY [MAM])", titleX: 803, xlabX: 803, label: "(e)", labX: 643, labY: 390});
pe.add(eObs, "#111", 2.4);
[eMirocHi, eMirocMed, eInm, eNcar, eCsiro, eBccr, eGiss].forEach(function (s, i) {
  pe.add(s, modelColors[i], i === 5 ? 2.4 : 1.2);
});

// bottom legend
var leg = svg.append("g");
leg.append("rect").attr("x", -2).attr("y", 623).attr("width", 1031).attr("height", 36)
  .attr("fill", "none").attr("stroke", "#333");
var legendStart = [-37, 83, 194, 328, 459, 596, 735, 878];
var legendNames = ["Observed"].concat(modelNames);
var legendColors = ["#111"].concat(modelColors);
legendNames.forEach(function (n, i) {
  var x0 = legendStart[i];
  leg.append("line").attr("x1", x0).attr("x2", x0 + 44).attr("y1", 641).attr("y2", 641)
    .attr("stroke", legendColors[i]).attr("stroke-width", i === 0 || i === 6 ? 2.2 : 1.6);
  leg.append("text").attr("x", x0 + 48).attr("y", 646).style("font-size", "14.5px")
    .attr("fill", "#222").text(n);
});
</script>
</body>
</html>
